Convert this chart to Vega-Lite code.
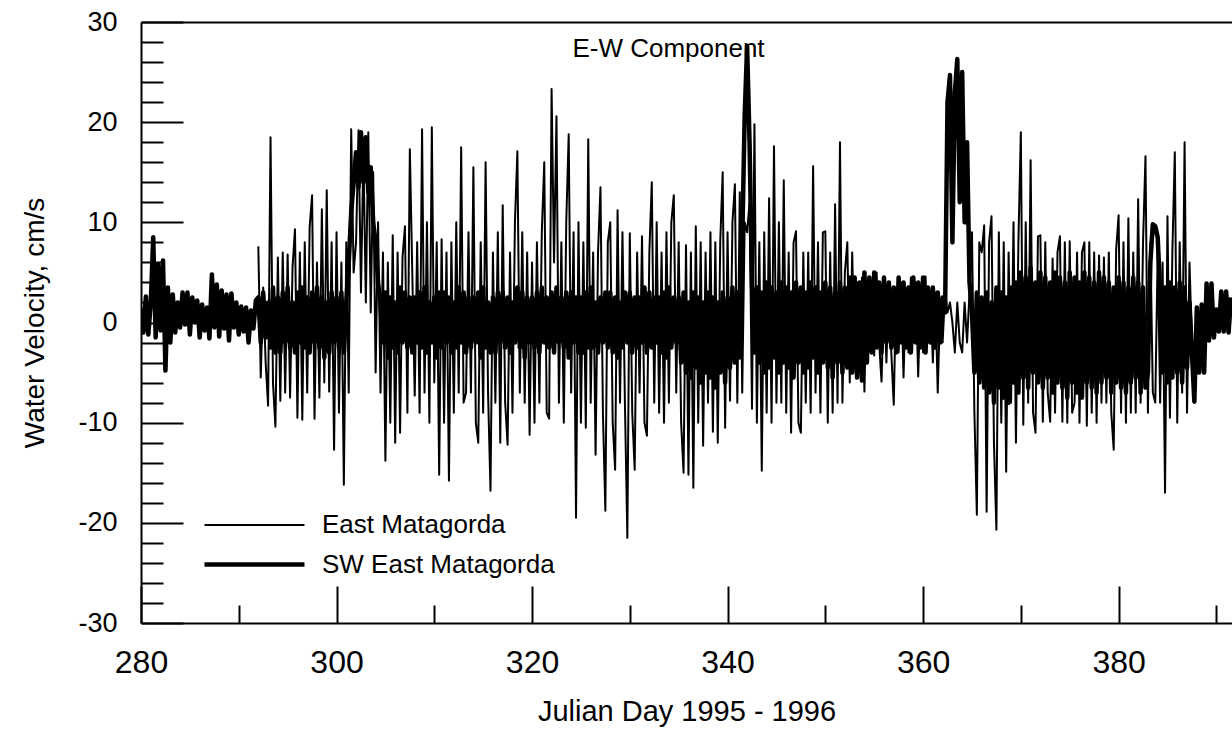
{
  "$schema": "https://vega.github.io/schema/vega-lite/v6.json",
  "width": 1091,
  "height": 601,
  "autosize": "none",
  "padding": {"left": 141, "top": 22, "right": 0, "bottom": 108},
  "background": "white",
  "config": {
    "view": {"stroke": null},
    "font": "Liberation Sans",
    "axis": {
      "labelFont": "Liberation Sans",
      "titleFont": "Liberation Sans",
      "labelColor": "black",
      "titleColor": "black",
      "titleFontWeight": "normal",
      "domainColor": "black",
      "domainWidth": 2,
      "tickColor": "black",
      "tickWidth": 2,
      "grid": false,
      "labelOverlap": false,
      "labelFlush": false
    }
  },
  "title": {
    "text": "E-W Component",
    "frame": "group",
    "anchor": "middle",
    "fontSize": 26,
    "fontWeight": "normal",
    "font": "Liberation Sans",
    "color": "black",
    "baseline": "alphabetic",
    "offset": -75,
    "dx": -18
  },
  "data": {"values": [
    {"t":280,"b":1.5},{"t":280.25,"b":-1},{"t":280.5,"b":2.6},{"t":280.75,"b":-1.2},
    {"t":281,"b":2},{"t":281.25,"b":8.5},{"t":281.5,"b":-1.5},{"t":281.75,"b":5.8},
    {"t":282,"b":-0.8},{"t":282.25,"b":6.2},{"t":282.5,"b":-4.8},{"t":282.75,"b":3.5},
    {"t":283,"b":-2},{"t":283.25,"b":2.8},{"t":283.5,"b":-1},{"t":283.75,"b":2},
    {"t":284,"b":-0.5},{"t":284.25,"b":3},{"t":284.5,"b":-0.2},{"t":284.75,"b":3},
    {"t":285,"b":-1.2},{"t":285.25,"b":2.5},{"t":285.5,"b":0},{"t":285.75,"b":2.2},
    {"t":286,"b":-1.5},{"t":286.25,"b":1.8},{"t":286.5,"b":-0.8},{"t":286.75,"b":1.5},
    {"t":287,"b":-1.6},{"t":287.25,"b":4.8},{"t":287.5,"b":-0.5},{"t":287.75,"b":3.8},
    {"t":288,"b":-1.4},{"t":288.25,"b":3.2},{"t":288.5,"b":-0.6},{"t":288.75,"b":2.8},
    {"t":289,"b":-1.8},{"t":289.25,"b":2.9},{"t":289.5,"b":-0.5},{"t":289.75,"b":2},
    {"t":290,"b":-1.2},{"t":290.25,"b":1.6},{"t":290.5,"b":-0.9},{"t":290.75,"b":1.5},
    {"t":291,"b":-2},{"t":291.25,"b":1.2},{"t":291.5,"b":-0.6},{"t":291.75,"b":2.2},
    {"t":292,"a":7.6,"b":2.5},{"t":292.25,"a":-5.5,"b":-2},{"t":292.5,"a":3.5,"b":3},{"t":292.75,"a":-4,"b":-1.5},
    {"t":293,"a":-8.3,"b":2},{"t":293.25,"a":18.5,"b":-2.5},{"t":293.5,"a":-6,"b":3.5},{"t":293.75,"a":-10.4,"b":-3},
    {"t":294,"a":6.5,"b":2.5},{"t":294.25,"a":-7.8,"b":-3},{"t":294.5,"a":7,"b":3},{"t":294.75,"a":-7,"b":-2},
    {"t":295,"a":6.8,"b":3.5},{"t":295.25,"a":-7.5,"b":-2.5},{"t":295.5,"a":5.5,"b":2},{"t":295.75,"a":9.3,"b":-3},
    {"t":296,"a":-9.5,"b":3},{"t":296.25,"a":7,"b":-2},{"t":296.5,"a":-9.7,"b":3.5},{"t":296.75,"a":8,"b":-2.5},
    {"t":297,"a":-7,"b":2.5},{"t":297.25,"a":9.5,"b":-3},{"t":297.5,"a":12.7,"b":3},{"t":297.75,"a":-9.6,"b":-2},
    {"t":298,"a":6,"b":3.5},{"t":298.25,"a":-7.5,"b":-2.5},{"t":298.5,"a":11.3,"b":2.5},{"t":298.75,"a":-6,"b":-3.5},
    {"t":299,"a":13.2,"b":2},{"t":299.25,"a":-6.9,"b":-3},{"t":299.5,"a":8,"b":3},{"t":299.75,"a":-12.7,"b":-2},
    {"t":300,"a":9,"b":2.5},{"t":300.25,"a":-9,"b":-2.5},{"t":300.5,"a":6,"b":3},{"t":300.75,"a":-16.2,"b":-3},
    {"t":301,"a":8,"b":2},{"t":301.25,"a":-7,"b":6},{"t":301.5,"a":19.3,"b":11},{"t":301.75,"a":5,"b":14},
    {"t":302,"a":8,"b":17},{"t":302.25,"a":19.2,"b":13.5},{"t":302.5,"a":3,"b":19},{"t":302.75,"a":17,"b":14},
    {"t":303,"a":2,"b":18.5},{"t":303.25,"a":19,"b":13},{"t":303.5,"a":1,"b":15.5},{"t":303.75,"a":15,"b":10},
    {"t":304,"a":-5,"b":8},{"t":304.25,"a":10,"b":4},{"t":304.5,"a":-7,"b":2},{"t":304.75,"a":7,"b":-2},
    {"t":305,"a":-13.8,"b":3},{"t":305.25,"a":6,"b":-3.5},{"t":305.5,"a":-10,"b":2.5},{"t":305.75,"a":8.7,"b":-2.5},
    {"t":306,"a":-12,"b":2},{"t":306.25,"a":7,"b":-3},{"t":306.5,"a":-11,"b":3.5},{"t":306.75,"a":6.5,"b":-2},
    {"t":307,"a":9.6,"b":3},{"t":307.25,"a":-9,"b":-2.5},{"t":307.5,"a":17.3,"b":2.5},{"t":307.75,"a":5,"b":-3},
    {"t":308,"a":-7.3,"b":2.5},{"t":308.25,"a":8,"b":-2},{"t":308.5,"a":-9,"b":3},{"t":308.75,"a":19.3,"b":-2.5},
    {"t":309,"a":-7,"b":3.5},{"t":309.25,"a":10,"b":-3},{"t":309.5,"a":-10,"b":2},{"t":309.75,"a":19.5,"b":-2},
    {"t":310,"a":-6,"b":2.5},{"t":310.25,"a":8,"b":-3.5},{"t":310.5,"a":-15.2,"b":3},{"t":310.75,"a":8.3,"b":-2.5},
    {"t":311,"a":-10,"b":3},{"t":311.25,"a":7,"b":-2},{"t":311.5,"a":-15.8,"b":2.5},{"t":311.75,"a":8,"b":-3},
    {"t":312,"a":-9,"b":2},{"t":312.25,"a":10,"b":-2.5},{"t":312.5,"a":-7,"b":3.5},{"t":312.75,"a":17.5,"b":-2},
    {"t":313,"a":-8,"b":3},{"t":313.25,"a":-7,"b":-3},{"t":313.5,"a":9,"b":2.5},{"t":313.75,"a":-7,"b":-2.5},
    {"t":314,"a":15.5,"b":2.5},{"t":314.25,"a":-10,"b":-2},{"t":314.5,"a":-12,"b":3},{"t":314.75,"a":8,"b":-3.5},
    {"t":315,"a":-9,"b":3.5},{"t":315.25,"a":16,"b":-2.5},{"t":315.5,"a":-7,"b":2},{"t":315.75,"a":-16.8,"b":-3},
    {"t":316,"a":7,"b":2.5},{"t":316.25,"a":-8,"b":-3},{"t":316.5,"a":9,"b":3},{"t":316.75,"a":-12,"b":-2},
    {"t":317,"a":11.7,"b":3},{"t":317.25,"a":-8,"b":-2.5},{"t":317.5,"a":-12.2,"b":2.5},{"t":317.75,"a":7,"b":-3},
    {"t":318,"a":-9,"b":2},{"t":318.25,"a":10,"b":-2},{"t":318.5,"a":17.1,"b":3.5},{"t":318.75,"a":-7,"b":-2.5},
    {"t":319,"a":9,"b":3},{"t":319.25,"a":-8,"b":-3.5},{"t":319.5,"a":7,"b":2.5},{"t":319.75,"a":-11.2,"b":-2},
    {"t":320,"a":6,"b":2.5},{"t":320.25,"a":-10,"b":-2.5},{"t":320.5,"a":8,"b":3},{"t":320.75,"a":-8,"b":-3},
    {"t":321,"a":9,"b":3.5},{"t":321.25,"a":16,"b":-2},{"t":321.5,"a":-9,"b":2.5},{"t":321.75,"a":-9.6,"b":-2.5},
    {"t":322,"a":23.3,"b":3},{"t":322.25,"a":6,"b":-3},{"t":322.5,"a":20.6,"b":3.5},{"t":322.75,"a":-8,"b":-2},
    {"t":323,"a":8,"b":2.5},{"t":323.25,"a":-10,"b":-2.5},{"t":323.5,"a":10,"b":3},{"t":323.75,"a":18.8,"b":-3.5},
    {"t":324,"a":-7,"b":3},{"t":324.25,"a":9,"b":-2},{"t":324.5,"a":-19.5,"b":2.5},{"t":324.75,"a":10,"b":-3},
    {"t":325,"a":-10,"b":2.5},{"t":325.25,"a":8,"b":-3},{"t":325.5,"a":-10.5,"b":3},{"t":325.75,"a":18.3,"b":-2.5},
    {"t":326,"a":-8,"b":3.5},{"t":326.25,"a":7,"b":-2.5},{"t":326.5,"a":-13.2,"b":2},{"t":326.75,"a":7,"b":-3},
    {"t":327,"a":13.5,"b":2.5},{"t":327.25,"a":-9,"b":-2},{"t":327.5,"a":-18.8,"b":3},{"t":327.75,"a":8,"b":-2.5},
    {"t":328,"a":10,"b":3},{"t":328.25,"a":-10,"b":-3},{"t":328.5,"a":-14.7,"b":2.5},{"t":328.75,"a":11.2,"b":-3.5},
    {"t":329,"a":-8,"b":2},{"t":329.25,"a":9,"b":-2.5},{"t":329.5,"a":-8,"b":3},{"t":329.75,"a":-21.5,"b":-2},
    {"t":330,"a":8.9,"b":3},{"t":330.25,"a":-9,"b":-3},{"t":330.5,"a":-14.7,"b":2.5},{"t":330.75,"a":7,"b":-2.5},
    {"t":331,"a":-7,"b":2.5},{"t":331.25,"a":8.6,"b":-2},{"t":331.5,"a":-10,"b":3.5},{"t":331.75,"a":-11.3,"b":-3},
    {"t":332,"a":7,"b":3},{"t":332.25,"a":14,"b":-2.5},{"t":332.5,"a":-8,"b":2.5},{"t":332.75,"a":10,"b":-2},
    {"t":333,"a":-9,"b":2.5},{"t":333.25,"a":7,"b":-3},{"t":333.5,"a":-10,"b":3},{"t":333.75,"a":9,"b":-3.5},
    {"t":334,"a":-8,"b":3.5},{"t":334.25,"a":10,"b":-2.5},{"t":334.5,"a":12.7,"b":2.5},{"t":334.75,"a":-7,"b":-2},
    {"t":335,"a":8,"b":2.5},{"t":335.25,"a":-10,"b":-4},{"t":335.5,"a":-15,"b":3},{"t":335.75,"a":7.7,"b":-5},
    {"t":336,"a":-15.2,"b":2},{"t":336.25,"a":7,"b":-5.5},{"t":336.5,"a":-16.5,"b":3},{"t":336.75,"a":9.6,"b":-4.5},
    {"t":337,"a":-10,"b":2.5},{"t":337.25,"a":8,"b":-6},{"t":337.5,"a":-12.3,"b":2},{"t":337.75,"a":7,"b":-5},
    {"t":338,"a":-8,"b":3},{"t":338.25,"a":9,"b":-5.5},{"t":338.5,"a":-10.9,"b":2.5},{"t":338.75,"a":8,"b":-6.5},
    {"t":339,"a":-12,"b":2},{"t":339.25,"a":8,"b":-5},{"t":339.5,"a":15,"b":3},{"t":339.75,"a":-10.5,"b":-6},
    {"t":340,"a":9,"b":2.5},{"t":340.25,"a":-7.8,"b":-4.5},{"t":340.5,"a":10,"b":3.5},{"t":340.75,"a":13.8,"b":-4},
    {"t":341,"a":-8,"b":3},{"t":341.25,"a":13,"b":-3.5},{"t":341.5,"a":-7,"b":8},{"t":341.75,"a":10,"b":20.6},
    {"t":342,"a":9,"b":27.6},{"t":342.25,"a":12,"b":18},{"t":342.5,"a":-8.6,"b":4},{"t":342.75,"a":19.8,"b":-3},
    {"t":343,"a":-10,"b":3.5},{"t":343.25,"a":8,"b":-4},{"t":343.5,"a":-14.8,"b":3},{"t":343.75,"a":9,"b":-5},
    {"t":344,"a":-9,"b":4},{"t":344.25,"a":12.4,"b":-4.5},{"t":344.5,"a":-10,"b":3.5},{"t":344.75,"a":17.6,"b":-3.5},
    {"t":345,"a":-8,"b":3},{"t":345.25,"a":10,"b":-5},{"t":345.5,"a":-8,"b":4},{"t":345.75,"a":14.2,"b":-4},
    {"t":346,"a":-9,"b":3.5},{"t":346.25,"a":7,"b":-4.5},{"t":346.5,"a":-11,"b":3},{"t":346.75,"a":8,"b":-5.5},
    {"t":347,"a":9.1,"b":4},{"t":347.25,"a":-10,"b":-4},{"t":347.5,"a":-11,"b":3.5},{"t":347.75,"a":7,"b":-5},
    {"t":348,"a":-8,"b":3},{"t":348.25,"a":7,"b":-4.5},{"t":348.5,"a":-9,"b":4},{"t":348.75,"a":15.6,"b":-3.5},
    {"t":349,"a":-7,"b":3.5},{"t":349.25,"a":8,"b":-5},{"t":349.5,"a":-9,"b":3},{"t":349.75,"a":9,"b":-4},
    {"t":350,"a":9.1,"b":4},{"t":350.25,"a":-10,"b":-4.5},{"t":350.5,"a":7,"b":3.5},{"t":350.75,"a":-9,"b":-5.5},
    {"t":351,"a":11.8,"b":3},{"t":351.25,"a":-8,"b":-4},{"t":351.5,"a":18,"b":4},{"t":351.75,"a":-8,"b":-5},
    {"t":352,"a":5,"b":3.5},{"t":352.25,"a":8,"b":-4.5},{"t":352.5,"a":-6,"b":4.5},{"t":352.75,"a":7,"b":-5},
    {"t":353,"a":-4.5,"b":4.5},{"t":353.25,"a":4,"b":-5.5},{"t":353.5,"a":-5,"b":4},{"t":353.75,"a":4.5,"b":-5.8},
    {"t":354,"a":-6.9,"b":5},{"t":354.25,"a":4,"b":-4},{"t":354.5,"a":-2,"b":4.5},{"t":354.75,"a":3.5,"b":-3},
    {"t":355,"a":-3.3,"b":5},{"t":355.25,"a":5,"b":-2.5},{"t":355.5,"a":-2,"b":4},{"t":355.75,"a":-5.9,"b":-3},
    {"t":356,"a":3,"b":4.5},{"t":356.25,"a":-4,"b":-2},{"t":356.5,"a":4,"b":4},{"t":356.75,"a":-3,"b":-2.5},
    {"t":357,"a":-8.2,"b":3.5},{"t":357.25,"a":3.5,"b":-3},{"t":357.5,"a":-3,"b":4.5},{"t":357.75,"a":4,"b":-2},
    {"t":358,"a":-5.5,"b":4},{"t":358.25,"a":3,"b":-2.5},{"t":358.5,"a":-3,"b":3.5},{"t":358.75,"a":4.5,"b":-3},
    {"t":359,"a":-2,"b":4.5},{"t":359.25,"a":4,"b":-2},{"t":359.5,"a":-5.4,"b":4},{"t":359.75,"a":3,"b":-2.5},
    {"t":360,"a":-3,"b":4.5},{"t":360.25,"a":4.6,"b":-3},{"t":360.5,"a":-2,"b":3.5},{"t":360.75,"a":3,"b":-2},
    {"t":361,"a":-4,"b":3.5},{"t":361.25,"a":3,"b":-2.5},{"t":361.5,"a":-7,"b":3},{"t":361.75,"a":2,"b":-2},
    {"t":362,"a":-2,"b":2.5},{"t":362.25,"a":3,"b":1},{"t":362.5,"a":1,"b":22},{"t":362.75,"a":2,"b":24.7},
    {"t":363,"a":0,"b":8},{"t":363.25,"a":-3,"b":23},{"t":363.5,"a":2,"b":26.3},{"t":363.75,"a":-2,"b":12},
    {"t":364,"a":-3,"b":25},{"t":364.25,"a":2,"b":10},{"t":364.5,"a":-2,"b":18},{"t":364.75,"a":3,"b":4},
    {"t":365,"a":9,"b":1},{"t":365.25,"a":-9,"b":-5},{"t":365.5,"a":-19.2,"b":3},{"t":365.75,"a":8,"b":-6},
    {"t":366,"a":7,"b":2.5},{"t":366.25,"a":9.7,"b":-6.5},{"t":366.5,"a":-18.9,"b":3},{"t":366.75,"a":8,"b":-7},
    {"t":367,"a":10.6,"b":2},{"t":367.25,"a":-12,"b":-8},{"t":367.5,"a":-20.7,"b":3.5},{"t":367.75,"a":9,"b":-6.5},
    {"t":368,"a":-10,"b":3},{"t":368.25,"a":8,"b":-7.5},{"t":368.5,"a":-14.9,"b":2.5},{"t":368.75,"a":7,"b":-8},
    {"t":369,"a":-8,"b":3.5},{"t":369.25,"a":10,"b":-6},{"t":369.5,"a":-12,"b":4},{"t":369.75,"a":8,"b":-7},
    {"t":370,"a":19,"b":5},{"t":370.25,"a":-10.2,"b":-5.5},{"t":370.5,"a":10,"b":4.5},{"t":370.75,"a":-8,"b":-6.5},
    {"t":371,"a":16.2,"b":5.5},{"t":371.25,"a":-9,"b":-5},{"t":371.5,"a":-11,"b":4},{"t":371.75,"a":8.6,"b":-6},
    {"t":372,"a":8.7,"b":5},{"t":372.25,"a":-9.9,"b":-6.5},{"t":372.5,"a":8,"b":4.5},{"t":372.75,"a":-7,"b":-5.5},
    {"t":373,"a":-9.9,"b":4},{"t":373.25,"a":6.4,"b":-7},{"t":373.5,"a":-9,"b":5},{"t":373.75,"a":7,"b":-6},
    {"t":374,"a":8.6,"b":4.5},{"t":374.25,"a":-9.9,"b":-6.5},{"t":374.5,"a":8,"b":4},{"t":374.75,"a":-10,"b":-7.5},
    {"t":375,"a":8.1,"b":5},{"t":375.25,"a":-9,"b":-6},{"t":375.5,"a":-8,"b":4.5},{"t":375.75,"a":7,"b":-7},
    {"t":376,"a":-10,"b":4},{"t":376.25,"a":7,"b":-7.5},{"t":376.5,"a":8,"b":5},{"t":376.75,"a":-10.3,"b":-6},
    {"t":377,"a":8,"b":4.5},{"t":377.25,"a":-9,"b":-6.5},{"t":377.5,"a":7,"b":4},{"t":377.75,"a":-10,"b":-7},
    {"t":378,"a":6.7,"b":5},{"t":378.25,"a":-8,"b":-6},{"t":378.5,"a":6.5,"b":4.5},{"t":378.75,"a":-8,"b":-5.5},
    {"t":379,"a":7,"b":4},{"t":379.25,"a":-9,"b":-7},{"t":379.5,"a":-12.7,"b":3.5},{"t":379.75,"a":7.3,"b":-6},
    {"t":380,"a":10.7,"b":4.5},{"t":380.25,"a":-9,"b":-6.5},{"t":380.5,"a":8,"b":4},{"t":380.75,"a":-10,"b":-7},
    {"t":381,"a":10.4,"b":3.5},{"t":381.25,"a":-9,"b":-6},{"t":381.5,"a":7,"b":4.5},{"t":381.75,"a":-9,"b":-5.5},
    {"t":382,"a":12.3,"b":4},{"t":382.25,"a":-8,"b":-7},{"t":382.5,"a":8,"b":3.5},{"t":382.75,"a":16.6,"b":-6.5},
    {"t":383,"a":-9,"b":-5},{"t":383.25,"a":8,"b":6},{"t":383.5,"a":-7,"b":9.8},{"t":383.75,"a":-8,"b":9.6},
    {"t":384,"a":7,"b":8.5},{"t":384.25,"a":-8,"b":3},{"t":384.5,"a":6,"b":-5},{"t":384.75,"a":-17,"b":3.5},
    {"t":385,"a":10.6,"b":-6},{"t":385.25,"a":-9.5,"b":4},{"t":385.5,"a":7,"b":-5.5},{"t":385.75,"a":17,"b":3.5},
    {"t":386,"a":-10,"b":-5},{"t":386.25,"a":8,"b":4},{"t":386.5,"a":-7,"b":-6},{"t":386.75,"a":18,"b":3.5},
    {"t":387,"a":-9,"b":-4.5},{"t":387.25,"a":6,"b":2},{"t":387.5,"a":-2,"b":-3},{"t":387.75,"b":-7.9},
    {"t":388,"b":1.5},{"t":388.25,"b":-5},{"t":388.5,"b":1.8},{"t":388.75,"b":-5},
    {"t":389,"b":3.9},{"t":389.25,"b":-1.8},{"t":389.5,"b":3.9},{"t":389.75,"b":-1.5},
    {"t":390,"b":1.3},{"t":390.25,"b":-0.9},{"t":390.5,"b":3.1},{"t":390.75,"b":-0.9},
    {"t":391,"b":3.1},{"t":391.25,"b":-1},{"t":391.5,"b":2.5}
  ]},
  "transform": [
    {"fold": ["a", "b"], "as": ["k", "v"]},
    {"filter": "isValid(datum.v)"}
  ],
  "layer": [
    {
      "mark": {"type": "line", "color": "black", "strokeJoin": "round", "clip": true},
      "encoding": {
        "x": {
          "field": "t",
          "type": "quantitative",
          "scale": {"domain": [280, 391.6], "nice": false, "zero": false},
          "axis": {
            "values": [280, 290, 300, 310, 320, 330, 340, 350, 360, 370, 380, 390],
            "tickSize": {"condition": {"test": "datum.value % 20 === 0", "value": -37}, "value": -18},
            "labelExpr": "datum.value % 20 === 0 ? datum.label : ''",
            "labelFontSize": 32,
            "labelPadding": 61,
            "title": "Julian Day 1995 - 1996",
            "titleFontSize": 29,
            "titlePadding": 0
          }
        },
        "y": {
          "field": "v",
          "type": "quantitative",
          "scale": {"domain": [-30, 30], "nice": false, "zero": false},
          "axis": {
            "values": [-30, -28, -26, -24, -22, -20, -18, -16, -14, -12, -10, -8, -6, -4, -2, 0, 2, 4, 6, 8, 10, 12, 14, 16, 18, 20, 22, 24, 26, 28, 30],
            "tickSize": {"condition": {"test": "datum.value % 10 === 0", "value": -42}, "value": -22},
            "labelExpr": "datum.value % 10 === 0 ? '' + datum.value : ''",
            "labelFontSize": 27,
            "labelPadding": 66,
            "title": "Water Velocity, cm/s",
            "titleFontSize": 28,
            "titlePadding": 28
          }
        },
        "strokeWidth": {
          "field": "k",
          "type": "nominal",
          "scale": {"domain": ["a", "b"], "range": [2, 4.5]},
          "legend": {
            "orient": "none",
            "legendX": 98.5,
            "legendY": 489.5,
            "title": null,
            "symbolType": "M-4,0H4",
            "symbolSize": 625,
            "symbolStrokeColor": "black",
            "symbolFillColor": "transparent",
            "labelFont": "Liberation Sans",
            "labelFontSize": 26,
            "labelColor": "black",
            "labelOffset": 52.5,
            "labelLimit": 500,
            "rowPadding": 11,
            "padding": 0,
            "labelExpr": "datum.value === 'a' ? 'East Matagorda' : 'SW East Matagorda'"
          }
        }
      }
    },
    {
      "transform": [{"filter": "datum.t === 280 && datum.k === 'b'"}],
      "mark": {"type": "point", "opacity": 0},
      "encoding": {
        "x": {
          "field": "t",
          "type": "quantitative",
          "axis": {"orient": "top", "labels": false, "ticks": false, "title": null, "domain": true}
        }
      }
    }
  ],
  "resolve": {"axis": {"x": "independent"}}
}
